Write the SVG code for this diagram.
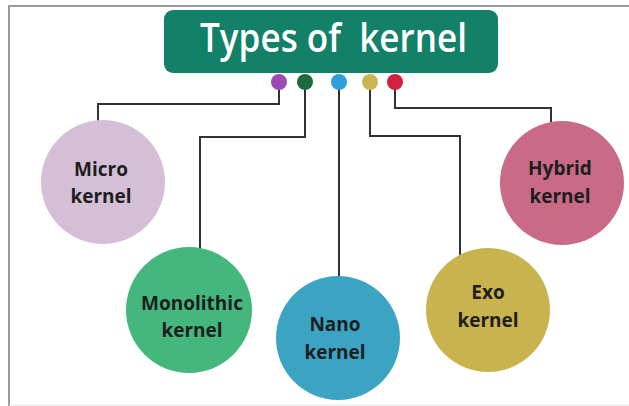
<svg xmlns="http://www.w3.org/2000/svg" width="629" height="406" viewBox="0 0 629 406">
<style>
.frame{fill:none;stroke:#9a9a9a;stroke-width:2}
.conn{fill:none;stroke:#333;stroke-width:2}
.lbl{font-family:"Open Sans","Liberation Sans",sans-serif;font-weight:700;font-size:19px;fill:#1e1e1e;text-anchor:middle}
.title{font-family:"Open Sans","Liberation Sans",sans-serif;font-weight:600;font-size:40px;fill:#ffffff}
</style>
<rect width="629" height="406" fill="#ffffff"/>
<path class="frame" d="M9 406 V6 H629"/>
<line x1="9" y1="405" x2="629" y2="405" stroke="#e4e4e4" stroke-width="1"/>
<g id="connectors">
<path class="conn" d="M279 82 V104 H98 V121"/>
<path class="conn" d="M305 82 V137 H200 V249"/>
<path class="conn" d="M339 82 V277"/>
<path class="conn" d="M370 82 V136 H460 V256"/>
<path class="conn" d="M395 82 V108 H551 V122"/>
</g>
<g id="title">
<rect x="164" y="10" width="334" height="63" rx="9" fill="#138068"/>
<text class="title" x="200" y="52" textLength="267" lengthAdjust="spacingAndGlyphs" xml:space="preserve">Types of  kernel</text>
</g>
<g id="dots">
<circle cx="279" cy="82" r="8" fill="#9d4bb3"/>
<circle cx="305" cy="82" r="8" fill="#1d6a3c"/>
<circle cx="339" cy="82" r="8" fill="#2e9fd8"/>
<circle cx="370" cy="82" r="8" fill="#cbb552"/>
<circle cx="395" cy="82" r="8" fill="#d2213f"/>
</g>
<g id="micro">
<circle cx="103" cy="182" r="62" fill="#d4bfd6"/>
<text class="lbl" x="101" y="176">Micro</text>
<text class="lbl" x="101" y="203">kernel</text>
</g>
<g id="monolithic">
<circle cx="189" cy="310" r="63" fill="#44b77d"/>
<text class="lbl" x="192" y="310">Monolithic</text>
<text class="lbl" x="192" y="337">kernel</text>
</g>
<g id="nano">
<circle cx="338" cy="338" r="62" fill="#3ba4c3"/>
<text class="lbl" x="335" y="331">Nano</text>
<text class="lbl" x="335" y="359">kernel</text>
</g>
<g id="exo">
<circle cx="488" cy="310" r="62" fill="#c8b34f"/>
<text class="lbl" x="488" y="299">Exo</text>
<text class="lbl" x="488" y="327">kernel</text>
</g>
<g id="hybrid">
<circle cx="562" cy="183" r="62" fill="#c96b87"/>
<text class="lbl" x="560" y="175">Hybrid</text>
<text class="lbl" x="560" y="203">kernel</text>
</g>
</svg>
